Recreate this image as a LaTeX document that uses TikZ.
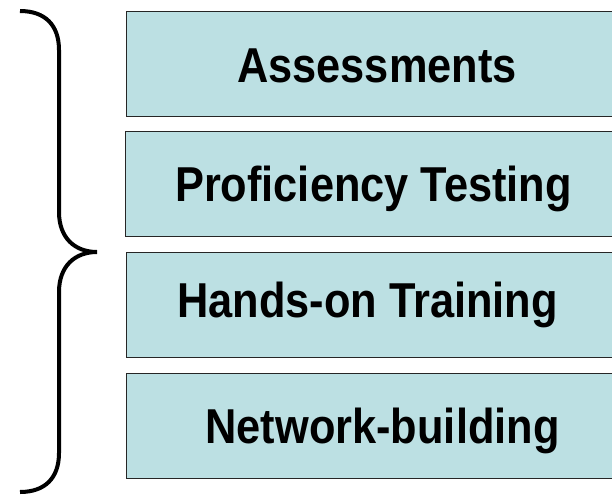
\documentclass[tikz,border=0pt]{standalone}
\usepackage{fontspec}
\newfontfamily\boxfont[FakeStretch=0.885]{Liberation Sans}
\definecolor{boxfill}{RGB}{188,224,227}
\begin{document}
\begin{tikzpicture}[x=1pt,y=-1pt,
  box/.style={draw=black!85,line width=1.3pt,fill=boxfill,rectangle,inner sep=0pt,minimum width=504pt,minimum height=105pt,anchor=north west},
  boxtext/.style={anchor=base,inner sep=0pt,font=\boxfont\bfseries\fontsize{49}{52}\selectfont},
  bracestyle/.style={line width=4pt,black}]
\useasboundingbox (0,0) rectangle (612,495);
\clip (0,0) rectangle (612,495);
\node[box] (b1) at (126,11) {};
\node[box] (b2) at (125,131) {};
\node[box] (b3) at (126,252) {};
\node[box] (b4) at (126,373) {};
\node[boxtext] (t1) at (377,82) {Assessments};
\node[boxtext] (t2) at (373.5,201) {Proficiency Testing};
\node[boxtext] (t3) at (367.5,317) {Hands-on Training};
\node[boxtext] (t4) at (382.5,443) {Network-building};
\coordinate (btop) at (20,11);
\coordinate (btip) at (97,252);
\coordinate (bbot) at (20,492);
\draw[bracestyle] (btop) .. controls (45,11) and (59,25) .. (59,50) -- (59,212)
  .. controls (59,238) and (75,252) .. (btip)
  .. controls (75,252) and (59,266) .. (59,292) -- (59,453)
  .. controls (59,478) and (45,492) .. (bbot);
\end{tikzpicture}
\end{document}
